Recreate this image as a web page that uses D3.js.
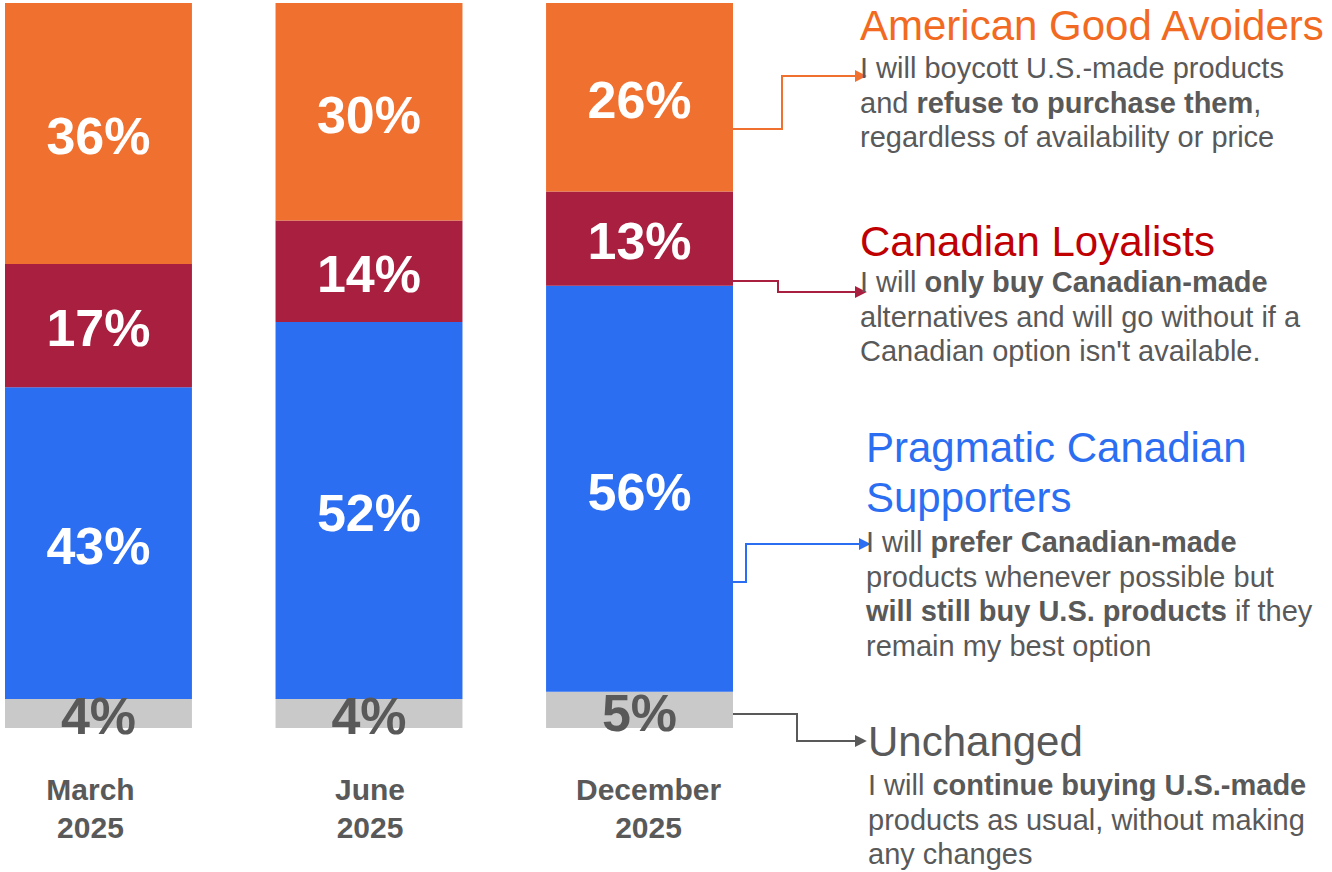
<!DOCTYPE html>
<html>
<head>
<meta charset="utf-8">
<script src="https://cdn.jsdelivr.net/npm/d3@7"></script>
<style>
body{margin:0;background:#fff;}
svg{display:block;font-family:"Liberation Sans",Arial,sans-serif;}
</style>
</head>
<body>
<svg id="chart"></svg>
<script>
// data
const categories=['March 2025','June 2025','December 2025'];
const avoiders=[36,30,26];
const loyalists=[17,14,13];
const pragmatic=[43,52,56];
const unchanged=[4,4,5];
const seriesKeys=['unchanged','pragmatic','loyalists','avoiders'];

const titles={
	avoiders:['American Good Avoiders'],
	loyalists:['Canadian Loyalists'],
	pragmatic:['Pragmatic Canadian','Supporters'],
	unchanged:['Unchanged']
};
// each line is a list of [text, bold]
const descriptions={
	avoiders:[
		[['I will boycott U.S.-made products',0]],
		[['and ',0],['refuse to purchase them',1],[',',0]],
		[['regardless of availability or price',0]]
	],
	loyalists:[
		[['I will ',0],['only buy Canadian-made',1]],
		[['alternatives and will go without if a',0]],
		[['Canadian option isn\'t available.',0]]
	],
	pragmatic:[
		[['I will ',0],['prefer Canadian-made',1]],
		[['products whenever possible but',0]],
		[['will still buy U.S. products',1],[' if they',0]],
		[['remain my best option',0]]
	],
	unchanged:[
		[['I will ',0],['continue buying U.S.-made',1]],
		[['products as usual, without making',0]],
		[['any changes',0]]
	]
};

// styles
const fill={avoiders:'#F07030',loyalists:'#A81F3F',pragmatic:'#2C6EF2',unchanged:'#C9C9C9'};
const valueColor={avoiders:'#fff',loyalists:'#fff',pragmatic:'#fff',unchanged:'#595959'};
const titleColor={avoiders:'#F26A21',loyalists:'#C00000',pragmatic:'#2C6EF2',unchanged:'#595959'};
const lineColor={avoiders:'#F07030',loyalists:'#A81F3F',pragmatic:'#2C6EF2',unchanged:'#595959'};
const textGray='#595959';

// annotation layout
const notes=[
	{key:'avoiders',x:860,titleY:40,descY:78,path:[[733,129],[782,129],[782,76],[856,76]]},
	{key:'loyalists',x:860,titleY:256,descY:292,path:[[733,281],[778,281],[778,292],[856,292]]},
	{key:'pragmatic',x:866,titleY:462,descY:552,path:[[733,582],[746,582],[746,544],[860,544]]},
	{key:'unchanged',x:868,titleY:756,descY:795,path:[[733,714],[797,714],[797,741],[856,741]]}
];

const W=1332,H=872;
const svg=d3.select('#chart').attr('width',W).attr('height',H);

const rows=categories.map((c,i)=>({cat:c,avoiders:avoiders[i],loyalists:loyalists[i],pragmatic:pragmatic[i],unchanged:unchanged[i]}));
const stacked=d3.stack().keys(seriesKeys)(rows);

const x=d3.scaleBand().domain(categories).range([5,733]).paddingInner(0.309).paddingOuter(0);
const y=d3.scaleLinear().domain([0,100]).range([728,3]);

const layers=svg.append('g').selectAll('g').data(stacked).enter().append('g')
	.attr('fill',d=>fill[d.key]);

layers.selectAll('rect').data(d=>d).enter().append('rect')
	.attr('x',d=>x(d.data.cat))
	.attr('y',d=>y(d[1]))
	.attr('width',x.bandwidth())
	.attr('height',d=>y(d[0])-y(d[1]));

stacked.forEach(s=>{
	svg.append('g').selectAll('text').data(s).enter().append('text')
		.attr('x',d=>x(d.data.cat)+x.bandwidth()/2)
		.attr('y',d=>(y(d[0])+y(d[1]))/2)
		.attr('dy','0.4em')
		.attr('text-anchor','middle')
		.style('font-size','52px').style('font-weight','bold')
		.attr('fill',valueColor[s.key])
		.text(d=>(d[1]-d[0])+'%');
});

// category labels under the bars
const labelShift=[-8,1,9];
const catLabels=svg.append('g').selectAll('text').data(categories).enter().append('text')
	.attr('text-anchor','middle')
	.attr('x',(d,i)=>x(d)+x.bandwidth()/2+labelShift[i])
	.attr('y',800)
	.attr('fill',textGray)
	.style('font-size','30px').style('font-weight','bold');
catLabels.each(function(d){
	const parts=d.split(' ');
	d3.select(this).selectAll('tspan').data(parts).enter().append('tspan')
		.attr('x',d3.select(this).attr('x'))
		.attr('dy',(p,j)=>j?38:0)
		.text(p=>p);
});

// arrow markers
const defs=svg.append('defs');
notes.forEach(n=>{
	defs.append('marker').attr('id','arrow-'+n.key)
		.attr('viewBox','0 0 10 10').attr('refX',1).attr('refY',5)
		.attr('markerWidth',6).attr('markerHeight',6).attr('orient','auto')
		.append('path').attr('d','M0,0L10,5L0,10Z').attr('fill',lineColor[n.key]);
});

const line=d3.line();
notes.forEach(n=>{
	svg.append('path').attr('d',line(n.path))
		.attr('fill','none').attr('stroke',lineColor[n.key]).attr('stroke-width',2)
		.attr('marker-end','url(#arrow-'+n.key+')');

	const t=svg.append('text').attr('x',n.x).attr('y',n.titleY)
		.attr('fill',titleColor[n.key]).style('font-size','42px');
	t.selectAll('tspan').data(titles[n.key]).enter().append('tspan')
		.attr('x',n.x).attr('dy',(d,i)=>i?50:0).text(d=>d);

	descriptions[n.key].forEach((ln,i)=>{
		const dt=svg.append('text').attr('x',n.x).attr('y',n.descY+i*34.5)
			.attr('fill',textGray).style('font-size','29px');
		dt.selectAll('tspan').data(ln).enter().append('tspan')
			.style('font-weight',d=>d[1]?'bold':'normal')
			.text(d=>d[0]);
	});
});
</script>
</body>
</html>
